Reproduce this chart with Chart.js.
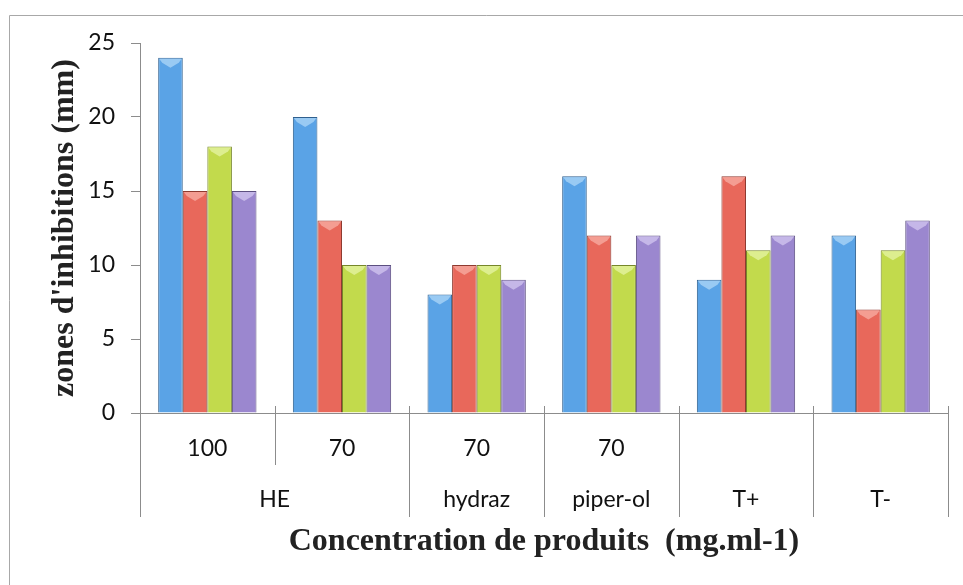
<!DOCTYPE html>
<html>
<head>
<meta charset="utf-8">
<script src="https://cdn.jsdelivr.net/npm/chart.js@4.4.1/dist/chart.umd.min.js"></script>
<style>
  html, body { margin: 0; padding: 0; background: #ffffff; }
  #wrap { width: 963px; height: 585px; position: relative; }
</style>
</head>
<body>
<div id="wrap"><canvas id="c" width="963" height="585"></canvas></div>
<script>
// Inhibition zone diameters (mm) per product / concentration, four strains
const concentrations = ['100', '70', '70', '70', '', ''];
const products = ['HE', 'HE', 'hydraz', 'piper-ol', 'T+', 'T-'];
const souche1 = [24, 20, 8, 16, 9, 12];
const souche2 = [15, 13, 10, 12, 16, 7];
const souche3 = [18, 10, 10, 10, 11, 11];
const souche4 = [15, 10, 9, 12, 12, 13];
const yTicks = [0, 5, 10, 15, 20, 25];

const fills = ['#5aa3e6', '#e8685b', '#c2da4c', '#9b87cf'];
const edges = ['#2f5f8e', '#8e3a30', '#76862a', '#5c4f80'];
const tops = ['#a9d3f6', '#f6aaa0', '#e4f2a0', '#cfc3ee'];

const axisGray = '#8c8c8c';
const labelFont = { family: 'Lato', size: 23 };
const titleFont = { family: 'Liberation Serif', size: 32, weight: 'bold' };

// Horizontal shading across each bar, darker toward the right edge
function barGradient(ctx, i) {
  const el = ctx.element;
  if (!el || !Number.isFinite(el.x) || !Number.isFinite(el.width)) return fills[i];
  const w = el.width;
  const g = ctx.chart.ctx.createLinearGradient(el.x - w / 2, 0, el.x + w / 2, 0);
  g.addColorStop(0, fills[i]);
  g.addColorStop(0.8, fills[i]);
  g.addColorStop(1, edges[i]);
  return g;
}

const seriesValues = [souche1, souche2, souche3, souche4];
const datasets = seriesValues.map((vals, i) => ({
  label: 'souche ' + (i + 1),
  data: vals,
  backgroundColor: (ctx) => barGradient(ctx, i),
  borderColor: edges[i],
  borderWidth: 1,
  borderSkipped: 'bottom',
  barPercentage: 1,
  categoryPercentage: 0.73
}));

// Outer frame around the whole figure
const framePlugin = {
  id: 'frame',
  beforeDraw(chart) {
    const c = chart.ctx;
    c.save();
    c.strokeStyle = '#a8a8a8';
    c.lineWidth = 1;
    c.beginPath();
    c.moveTo(9.5, 585);
    c.lineTo(9.5, 15.5);
    c.lineTo(963, 15.5);
    c.stroke();
    c.restore();
  }
};

// Light bevel at the top of each bar
const bevelPlugin = {
  id: 'bevel',
  afterDatasetsDraw(chart) {
    const c = chart.ctx;
    c.save();
    chart.data.datasets.forEach((ds, i) => {
      chart.getDatasetMeta(i).data.forEach((bar) => {
        const half = bar.width / 2 - 1;
        const top = bar.y + 1;
        c.fillStyle = tops[i];
        c.globalAlpha = 0.8;
        c.beginPath();
        c.moveTo(bar.x - half, top);
        c.lineTo(bar.x + half, top);
        c.lineTo(bar.x + half - 3, top + 4);
        c.lineTo(bar.x, top + 9);
        c.lineTo(bar.x - half + 3, top + 4);
        c.closePath();
        c.fill();
      });
    });
    c.restore();
  }
};

// Two-level category axis: separators and the product row
const groupAxisPlugin = {
  id: 'groupAxis',
  afterDraw(chart) {
    const x = chart.scales.x;
    const c = chart.ctx;
    const n = products.length;
    const axisY = chart.chartArea.bottom;
    const step = x.getPixelForValue(1) - x.getPixelForValue(0);
    const row1Bottom = axisY + 52;
    const row2Bottom = axisY + 104;
    const row2Y = axisY + 87;
    c.save();
    c.strokeStyle = axisGray;
    c.lineWidth = 1;
    for (let k = 0; k <= n; k++) {
      const px = Math.round(x.getPixelForValue(0) - step / 2 + k * step) + 0.5;
      const groupEdge = k === 0 || k === n || products[k] !== products[k - 1];
      c.beginPath();
      c.moveTo(px, k === 0 ? axisY : axisY - 7);
      c.lineTo(px, groupEdge ? row2Bottom : row1Bottom);
      c.stroke();
    }
    c.fillStyle = '#111';
    c.font = labelFont.size + 'px ' + labelFont.family;
    c.textAlign = 'center';
    c.textBaseline = 'middle';
    let start = 0;
    for (let k = 1; k <= n; k++) {
      if (k === n || products[k] !== products[start]) {
        const cx = (x.getPixelForValue(start) + x.getPixelForValue(k - 1)) / 2;
        c.fillText(products[start], cx, row2Y);
        start = k;
      }
    }
    c.restore();
  }
};

new Chart(document.getElementById('c'), {
  type: 'bar',
  data: { labels: concentrations, datasets },
  plugins: [framePlugin, bevelPlugin, groupAxisPlugin],
  options: {
    responsive: false,
    animation: false,
    devicePixelRatio: 1,
    layout: { padding: { left: 42, right: 15, top: 43, bottom: 20 } },
    plugins: { legend: { display: false }, tooltip: { enabled: false } },
    scales: {
      x: {
        grid: { display: false, drawTicks: false },
        border: { display: true, color: axisGray, width: 1 },
        ticks: { font: labelFont, color: '#111', padding: 22, maxRotation: 0, autoSkip: false },
        title: {
          display: true,
          text: 'Concentration de produits  (mg.ml-1)',
          font: titleFont,
          color: '#222',
          padding: { top: 0, bottom: 4 }
        },
        afterFit(scale) { scale.height = 152; }
      },
      y: {
        min: 0,
        max: 25,
        afterBuildTicks(scale) { scale.ticks = yTicks.map(v => ({ value: v })); },
        grid: { drawOnChartArea: false, drawTicks: true, tickLength: 9, color: axisGray },
        border: { display: true, color: axisGray, width: 1 },
        ticks: { font: labelFont, color: '#111', padding: 16 },
        title: {
          display: true,
          text: "zones d'inhibitions (mm)",
          font: titleFont,
          color: '#222',
          padding: { top: 4, bottom: 0 }
        },
        afterFit(scale) { scale.width = 98; }
      }
    }
  }
});
</script>
</body>
</html>
